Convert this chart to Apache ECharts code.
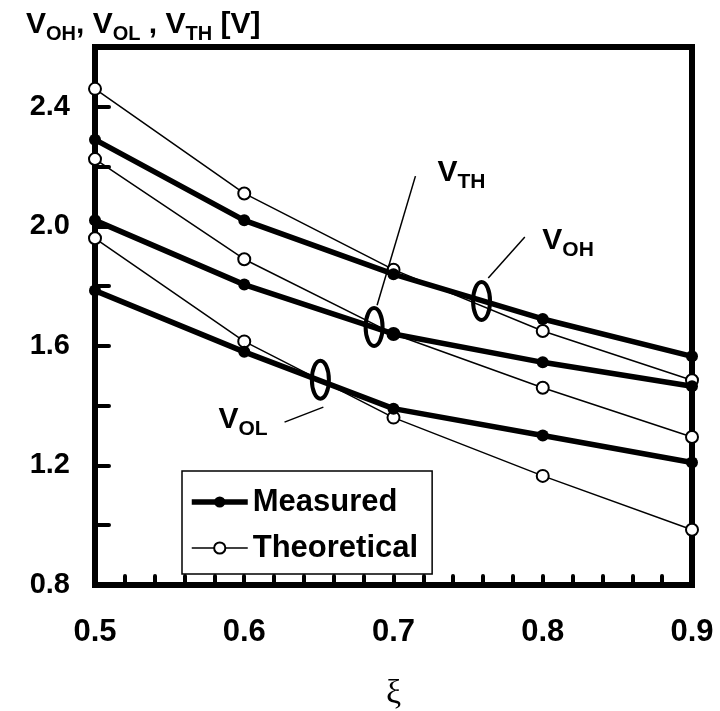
<!DOCTYPE html>
<html>
<head>
<meta charset="utf-8">
<script src="https://cdn.jsdelivr.net/npm/echarts@6/dist/echarts.min.js"></script>
<style>
    html, body { margin: 0; padding: 0; background: #fff; }
    #main { width: 720px; height: 711px; }
</style>
</head>
<body>
<div id="main"></div>
<script>
// xi values (x axis)
var xiValues = [0.5, 0.6, 0.7, 0.8, 0.9];

// measured / theoretical voltages [V]
var vohMeasured = [2.29, 2.02, 1.84, 1.69, 1.565];
var vohTheory = [2.46, 2.11, 1.855, 1.65, 1.485];
var vthMeasured = [2.02, 1.805, 1.64, 1.545, 1.465];
var vthTheory = [2.225, 1.89, 1.64, 1.46, 1.295];
var volMeasured = [1.785, 1.58, 1.39, 1.30, 1.21];
var volTheory = [1.96, 1.615, 1.36, 1.165, 0.985];

var legendNames = ['Measured', 'Theoretical'];

// annotation anchors, in data coordinates
var ellipseAt = { VOH: [0.759, 1.75], VTH: [0.687, 1.663], VOL: [0.651, 1.487] };
var leaderAt = {
    VOH: [[0.7635, 1.827], [0.788, 1.964]],
    VTH: [[0.689, 1.736], [0.7147, 2.168]],
    VOL: [[0.653, 1.395], [0.627, 1.345]]
};
var labelAt = { VOH: [0.7997, 1.98], VTH: [0.7294, 2.205], VOL: [0.5827, 1.379] };

var FONT = '"Liberation Sans", Arial, sans-serif';

function pairs(ys) {
    var out = [];
    for (var i = 0; i < xiValues.length; i++) {
        out.push([xiValues[i], ys[i]]);
    }
    return out;
}

function measured(ys) {
    return {
        name: 'Measured',
        type: 'line',
        data: pairs(ys),
        clip: false,
        symbol: 'circle',
        symbolSize: 12,
        z: 4,
        itemStyle: { color: '#000' },
        lineStyle: { color: '#000', width: 5.5 }
    };
}

function theory(ys) {
    return {
        name: 'Theoretical',
        type: 'line',
        data: pairs(ys),
        clip: false,
        symbol: 'emptyCircle',
        symbolSize: 12,
        z: 3,
        itemStyle: { color: '#000', borderWidth: 1.5 },
        lineStyle: { color: '#000', width: 1.5 }
    };
}

var myChart = echarts.init(document.getElementById('main'));

var option = {
    animation: false,
    backgroundColor: '#fff',
    title: {
        left: 21,
        top: 5,
        text: '{v|V}{s|OH}{v|, V}{s|OL}{v| , V}{s|TH}{v| [V]}',
        textStyle: {
            rich: {
                v: { fontFamily: FONT, fontWeight: 'bold', fontSize: 30, lineHeight: 36, color: '#000', verticalAlign: 'top' },
                s: { fontFamily: FONT, fontWeight: 'bold', fontSize: 20, lineHeight: 24, color: '#000', verticalAlign: 'top', padding: [14, 0, 0, 0] }
            }
        }
    },
    legend: {
        data: [
            { name: legendNames[0], lineStyle: { width: 5.5 }, itemStyle: { color: '#000' } },
            { name: legendNames[1], lineStyle: { width: 1.5 } }
        ],
        orient: 'vertical',
        left: 182,
        top: 471,
        padding: [14, 14, 9, 7],
        itemWidth: 56,
        itemHeight: 14,
        itemGap: 12,
        selectedMode: false,
        backgroundColor: '#fff',
        borderColor: '#000',
        borderWidth: 1.5,
        borderRadius: 0,
        textStyle: { fontFamily: FONT, fontWeight: 'bold', fontSize: 31, lineHeight: 34, color: '#000' }
    },
    grid: {
        left: 95,
        right: 28,
        top: 47,
        bottom: 126,
        outerBoundsMode: 'none',
        containLabel: false,
        show: true,
        borderColor: '#000',
        borderWidth: 6
    },
    xAxis: {
        type: 'value',
        min: 0.5,
        max: 0.9,
        interval: 0.02,
        name: 'ξ',
        nameLocation: 'middle',
        nameGap: 92,
        nameTextStyle: { fontFamily: '"Liberation Serif", "DejaVu Serif", serif', fontSize: 34, color: '#000' },
        axisLine: { lineStyle: { color: '#000', width: 6 } },
        axisTick: { inside: true, length: 9, lineStyle: { color: '#000', width: 4, cap: 'round' } },
        splitLine: { show: false },
        axisLabel: {
            margin: 32,
            color: '#000',
            fontFamily: FONT,
            fontWeight: 'bold',
            fontSize: 31,
            formatter: function(v) {
                var t = v * 10;
                if (Math.abs(t - Math.round(t)) < 1e-6) {
                    return v.toFixed(1);
                }
                return '';
            }
        }
    },
    yAxis: {
        type: 'value',
        min: 0.8,
        max: 2.6,
        interval: 0.2,
        axisLine: { lineStyle: { color: '#000', width: 6 } },
        axisTick: { inside: true, length: 14, lineStyle: { color: '#000', width: 4, cap: 'round' } },
        splitLine: { show: false },
        axisLabel: {
            margin: 25,
            color: '#000',
            fontFamily: FONT,
            fontWeight: 'bold',
            fontSize: 29,
            formatter: function(v) {
                var t = Math.round(v * 10);
                if (t % 4 === 0 && t < 26) {
                    return v.toFixed(1);
                }
                return '';
            }
        }
    },
    series: [
        measured(vohMeasured),
        theory(vohTheory),
        measured(vthMeasured),
        theory(vthTheory),
        measured(volMeasured),
        theory(volTheory)
    ]
};
myChart.setOption(option);

// 标注：椭圆、引线和 V 标签
function px(p) {
    return myChart.convertToPixel({ gridIndex: 0 }, p);
}

var subNames = { VOH: 'OH', VTH: 'TH', VOL: 'OL' };
var elements = [];
Object.keys(ellipseAt).forEach(function(key) {
    var c = px(ellipseAt[key]);
    elements.push({
        type: 'ellipse',
        z: 10,
        shape: { cx: c[0], cy: c[1], rx: 8.5, ry: 19 },
        style: { fill: 'none', stroke: '#000', lineWidth: 4 }
    });
    var a = px(leaderAt[key][0]);
    var b = px(leaderAt[key][1]);
    elements.push({
        type: 'line',
        z: 10,
        shape: { x1: a[0], y1: a[1], x2: b[0], y2: b[1] },
        style: { stroke: '#000', lineWidth: 1.5 }
    });
    var t = px(labelAt[key]);
    elements.push({
        type: 'text',
        z: 10,
        x: t[0],
        y: t[1] - 7,
        style: {
            text: '{v|V}{s|' + subNames[key] + '}',
            verticalAlign: 'top',
            rich: {
                v: { fontFamily: FONT, fontWeight: 'bold', fontSize: 30, lineHeight: 36, fill: '#000', verticalAlign: 'top' },
                s: { fontFamily: FONT, fontWeight: 'bold', fontSize: 21, lineHeight: 26, fill: '#000', verticalAlign: 'top', padding: [14, 0, 0, 0] }
            }
        }
    });
});
myChart.setOption({ graphic: { elements: elements } });

window.addEventListener('resize', function() {
    myChart.resize();
});
</script>
</body>
</html>
